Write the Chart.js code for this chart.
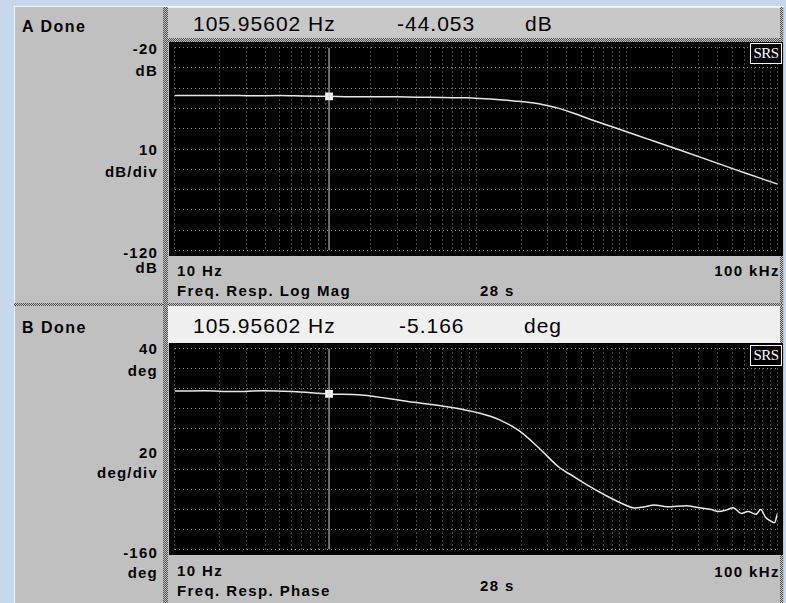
<!DOCTYPE html>
<html>
<head>
<meta charset="utf-8">
<script src="https://cdn.jsdelivr.net/npm/chart.js@4.4.0/dist/chart.umd.min.js"></script>
<style>
  body { margin: 0; width: 786px; height: 603px; overflow: hidden; position: relative;
         background: #c8d8ec; font-family: "Liberation Sans", Arial, sans-serif; color: #000; }
  .box { position: absolute; }
  .gray { background: #c0c0c0; }
  .hatch { background: repeating-conic-gradient(#505050 0 25%, #c4c4c4 0 50%) 0 0 / 2px 2px; }
  .t { position: absolute; white-space: nowrap; }
  .side { font-weight: bold; font-size: 15px; line-height: 15px; letter-spacing: 1.2px; left: 0; width: 158px; text-align: right; }
  .hdr { font-size: 21px; line-height: 21px; letter-spacing: 1px; }
  .ftr { font-weight: bold; font-size: 15px; line-height: 15px; letter-spacing: 1.4px; }
  .srs { position: absolute; width: 30px; height: 19px; border: 1px solid #fff; background: #000;
         color: #fff; font-family: "Liberation Serif", serif; font-size: 15px; line-height: 19px;
         text-align: center; letter-spacing: -0.5px; }
</style>
</head>
<body>
<div class="box gray" style="left:14px;top:6px;width:769px;height:597px;border-top:1px solid #f4f4f4;border-left:1px solid #f4f4f4;"></div>

<!-- panel A -->
<div class="box" style="left:168px;top:7px;width:612px;height:31px;background:#c8c8c8;border-top:1px solid #f0f0f0;"></div>
<div class="box hatch" style="left:168px;top:38px;width:615px;height:4px;"></div>
<div class="box hatch" style="left:780px;top:7px;width:3px;height:35px;"></div>
<div class="box hatch" style="left:780px;top:256px;width:3px;height:47px;"></div>
<canvas id="magChart" class="box" width="614" height="214" style="left:169px;top:42px;"></canvas>
<div class="srs" style="left:750px;top:43px;">SRS</div>

<div class="t side" style="left:22px;width:auto;text-align:left;top:19px;font-size:16px;letter-spacing:1.5px;">A Done</div>
<div class="t side" style="top:41px;">-20</div>
<div class="t side" style="top:63px;">dB</div>
<div class="t side" style="top:142px;">10</div>
<div class="t side" style="top:164px;">dB/div</div>
<div class="t side" style="top:245px;">-120</div>
<div class="t side" style="top:260px;">dB</div>

<div class="t hdr" style="left:193px;top:13px;">105.95602 Hz</div>
<div class="t hdr" style="left:397px;top:13px;">-44.053</div>
<div class="t hdr" style="left:525px;top:13px;">dB</div>

<div class="t ftr" style="left:177px;top:263px;">10 Hz</div>
<div class="t ftr" style="left:177px;top:283px;">Freq. Resp. Log Mag</div>
<div class="t ftr" style="left:480px;top:283px;">28 s</div>
<div class="t ftr" style="left:600px;width:180px;text-align:right;top:263px;">100 kHz</div>

<!-- divider -->
<div class="box hatch" style="left:14px;top:303px;width:769px;height:3px;"></div>
<div class="box hatch" style="left:163px;top:7px;width:5px;height:596px;"></div>

<!-- panel B -->
<div class="box" style="left:168px;top:306px;width:612px;height:37px;background:#f0f0f0;"></div>
<div class="box hatch" style="left:780px;top:306px;width:3px;height:37px;"></div>
<div class="box hatch" style="left:780px;top:555px;width:3px;height:48px;"></div>
<canvas id="phaseChart" class="box" width="614" height="212" style="left:169px;top:343px;"></canvas>
<div class="srs" style="left:750px;top:345px;">SRS</div>

<div class="t side" style="left:22px;width:auto;text-align:left;top:320px;font-size:16px;letter-spacing:1.5px;">B Done</div>
<div class="t side" style="top:341px;">40</div>
<div class="t side" style="top:363px;">deg</div>
<div class="t side" style="top:445px;">20</div>
<div class="t side" style="top:465px;">deg/div</div>
<div class="t side" style="top:545px;">-160</div>
<div class="t side" style="top:565px;">deg</div>

<div class="t hdr" style="left:193px;top:315px;">105.95602 Hz</div>
<div class="t hdr" style="left:399px;top:315px;">-5.166</div>
<div class="t hdr" style="left:524px;top:315px;">deg</div>

<div class="t ftr" style="left:177px;top:563px;">10 Hz</div>
<div class="t ftr" style="left:177px;top:583px;">Freq. Resp. Phase</div>
<div class="t ftr" style="left:480px;top:578px;">28 s</div>
<div class="t ftr" style="left:600px;width:180px;text-align:right;top:564px;">100 kHz</div>

<script>
// values
const magFreqs = [10, 15, 22, 33, 50, 71, 106, 150, 230, 350, 480, 700, 873, 1062, 1435, 1800, 2360, 2900, 3540, 4500, 5820, 8730, 13700, 21500, 33800, 53100, 71800, 100000];
const magDb = [-43.6, -43.7, -43.6, -43.8, -43.7, -43.9, -44.05, -44.2, -44.2, -44.4, -44.5, -44.7, -44.8, -45.1, -45.7, -46.3, -47.2, -48.4, -50.0, -52.5, -55.6, -60.0, -65.0, -70.0, -75.1, -80.3, -83.6, -87.3];

const phaseFreqs = [10, 15.7, 24.7, 38.7, 60.9, 106, 174, 354, 676, 1062, 1435, 1940, 2616, 3540, 4450, 5820, 7530, 9700, 11200, 13100, 15200, 18500, 24800, 30300, 36500, 40500, 45600, 50800, 57400, 63700, 71800, 77400, 83300, 89800, 95400, 100000];
const phaseDeg = [-2.4, -2.0, -2.9, -2.0, -2.9, -5.2, -6.3, -12.8, -18.5, -24.5, -31.0, -42.0, -59.0, -77.9, -87.4, -98.2, -107.5, -115.5, -118.6, -117.5, -115.6, -117.5, -116.5, -118.4, -120.3, -122.2, -120.8, -118.4, -124.1, -122.2, -125.0, -120.3, -127.9, -131.6, -133.5, -124.1];

const gridFreqs = [10, 20, 30, 40, 50, 60, 70, 80, 90,
  100, 200, 300, 400, 500, 600, 700, 800, 900,
  1000, 2000, 3000, 4000, 5000, 6000, 7000, 8000, 9000,
  10000, 20000, 30000, 40000, 50000, 60000, 70000, 80000, 90000, 100000];

const cursorHz = 105.95602;
const cursorMag = -44.053;
const cursorPhase = -5.166;

function scopeChart(id, freqs, vals, yMin, yMax, yStep, cursorVal) {
    const ctx = document.getElementById(id).getContext('2d');
    const gridStyle = { color: '#8c8c8c', lineWidth: 1, drawTicks: false };
    return new Chart(ctx, {
        type: 'line',
        data: {
            datasets: [{
                data: [{ x: cursorHz, y: yMin }, { x: cursorHz, y: yMax }],
                borderColor: '#d8d8d8',
                borderWidth: 1,
                pointRadius: 0
            }, {
                data: freqs.map((f, i) => ({ x: f, y: vals[i] })),
                borderColor: '#e8e8e8',
                borderWidth: 1.5,
                pointRadius: 0,
                cubicInterpolationMode: 'monotone'
            }, {
                data: [{ x: cursorHz, y: cursorVal }],
                pointStyle: 'rect',
                pointRadius: 5.5,
                pointBackgroundColor: '#f4f4f4',
                pointBorderWidth: 0,
                showLine: false
            }]
        },
        options: {
            responsive: false,
            animation: false,
            devicePixelRatio: 1,
            layout: { padding: 0 },
            plugins: { legend: { display: false }, tooltip: { enabled: false } },
            scales: {
                x: {
                    type: 'logarithmic', min: 10, max: 100000,
                    afterBuildTicks: axis => { axis.ticks = gridFreqs.map(v => ({ value: v })); },
                    ticks: { display: false, autoSkip: false },
                    grid: gridStyle,
                    border: { display: false, dash: [1, 3] }
                },
                y: {
                    min: yMin, max: yMax,
                    ticks: { display: false, stepSize: yStep },
                    grid: gridStyle,
                    border: { display: false, dash: [1, 3] }
                }
            }
        },
        plugins: [{
            id: 'blackBg',
            beforeDraw: c => {
                c.ctx.save();
                c.ctx.fillStyle = '#000';
                c.ctx.fillRect(0, 0, c.width, c.height);
                c.ctx.restore();
            }
        }]
    });
}

scopeChart('magChart', magFreqs, magDb, -120, -20, 10, cursorMag);
scopeChart('phaseChart', phaseFreqs, phaseDeg, -160, 40, 20, cursorPhase);
</script>
</body>
</html>
